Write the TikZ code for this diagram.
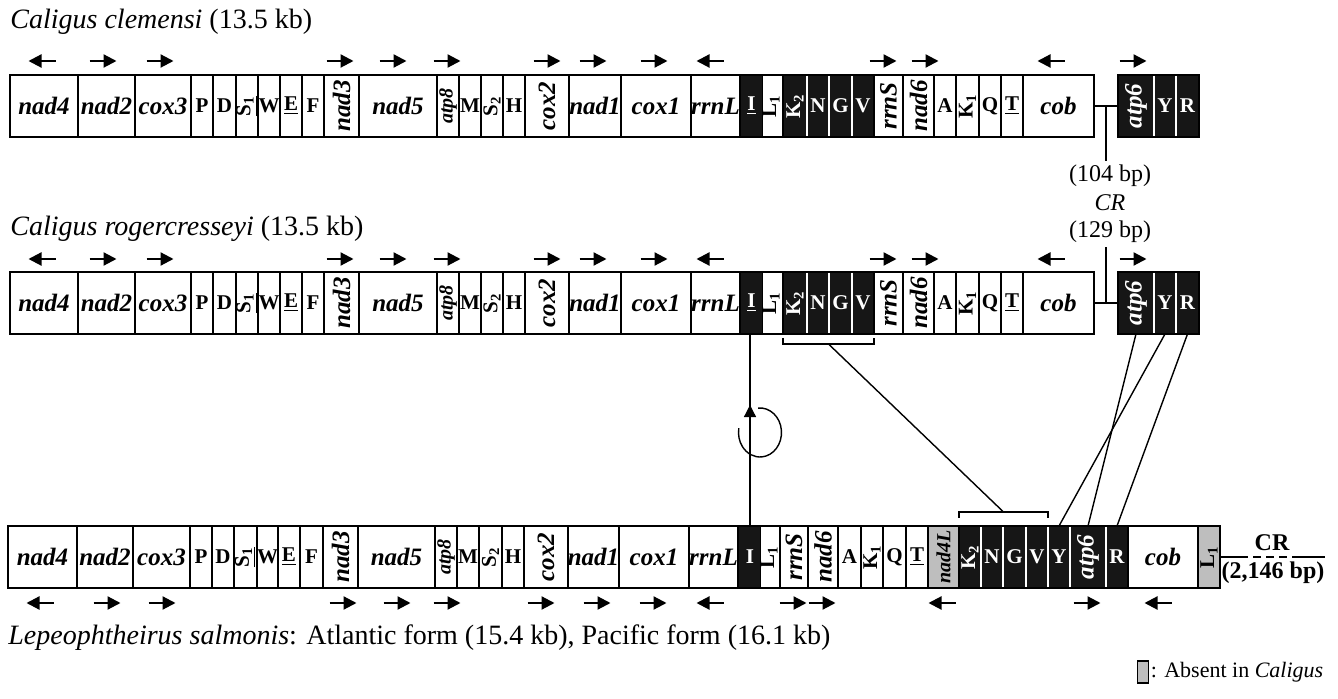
\documentclass[tikz,border=0pt]{standalone}
\usepackage{fontspec}
\setmainfont{Liberation Serif}
\usepackage{graphicx}
\usetikzlibrary{positioning, arrows.meta, calc, decorations.markings}
\definecolor{cellblack}{HTML}{161616}
\definecolor{cellgray}{HTML}{BEBEBE}
\newcommand{\rotlab}[1]{\rotatebox{90}{#1}}
\newcommand{\rotsmall}[1]{\rotatebox{90}{\fontsize{10}{10}\selectfont #1}}

\tikzset{
  cell/.style={draw, line width=0.9pt, inner sep=0pt, outer sep=0pt, minimum height=31pt},
  wg/.style={cell, fill=white, font=\fontsize{12.5}{12.5}\selectfont\bfseries\itshape},
  wt/.style={cell, fill=white, font=\fontsize{10.5}{10.5}\selectfont\bfseries},
  bg/.style={cell, fill=cellblack, text=white, font=\fontsize{12.5}{12.5}\selectfont\bfseries\itshape},
  bt/.style={cell, fill=cellblack, text=white, font=\fontsize{10.5}{10.5}\selectfont\bfseries},
  gg/.style={cell, fill=cellgray, font=\fontsize{12.5}{12.5}\selectfont\bfseries\itshape},
  gt/.style={cell, fill=cellgray, font=\fontsize{10.5}{10.5}\selectfont\bfseries},
  dir/.style={-{Triangle[length=6.5pt, width=6.5pt]}, line width=1.1pt},
  sep/.style={white, line width=0.6pt, shorten <=0.5pt, shorten >=0.5pt},
  title/.style={inner sep=0pt, anchor=west, font=\fontsize{14}{16}\selectfont},
  crlab/.style={inner sep=2pt, font=\fontsize{12}{14}\selectfont},
  crbold/.style={inner sep=1pt, font=\fontsize{12}{14}\selectfont\bfseries},
  link/.style={line width=0.7pt},
  joint/.style={line width=0.9pt}
}

\begin{document}
\begin{tikzpicture}[x=0.5pt, y=-0.5pt]
  \useasboundingbox (0,0) rectangle (1338,699);

  % titles
  \node[title] (t1) at (10,22) {\textit{Caligus clemensi} (13.5 kb)};
  \node[title] (t2) at (10,229) {\textit{Caligus rogercresseyi} (13.5 kb)};
  \node[title] (t3) at (8,638) {\textit{Lepeophtheirus salmonis}: Atlantic form (15.4 kb), Pacific form (16.1 kb)};

  % the two Caligus genomes
  \foreach \r/\yc in {c1/106, c2/303} {
    \foreach \a/\b/\n/\s/\l in {
      10/78/nad4/wg/nad4, 78/135/nad2/wg/nad2, 135/191/cox3/wg/cox3,
      191/213/P/wt/P, 213/236/D/wt/D, 236/258/S1/wt/{\rotlab{\underline{S\textsubscript{1}}}},
      258/280/W/wt/W, 280/302/E/wt/{\underline{E}}, 302/324/F/wt/F,
      324/359/nad3/wg/{\rotlab{nad3}}, 359/437/nad5/wg/nad5, 437/459/atp8/wg/{\rotsmall{atp8}},
      459/481/M/wt/M, 481/503/S2/wt/{\rotlab{S\textsubscript{2}}}, 503/525/H/wt/H,
      525/569/cox2/wg/{\rotlab{cox2}}, 569/621/nad1/wg/nad1, 621/691/cox1/wg/cox1,
      691/740/rrnL/wg/rrnL, 740/763/I/bt/{\underline{I}}, 763/783/L1/wt/{\rotlab{\underline{L\textsubscript{1}}}},
      783/807/K2/bt/{\rotlab{K\textsubscript{2}}}, 807/829/N/bt/N, 829/852/G/bt/G, 852/874/V/bt/V,
      874/903/rrnS/wg/{\rotlab{rrnS}}, 903/934/nad6/wg/{\rotlab{nad6}}, 934/956/A/wt/A,
      956/979/K1/wt/{\rotlab{K\textsubscript{1}}}, 979/1001/Q/wt/Q, 1001/1023/T/wt/{\underline{T}},
      1023/1094/cob/wg/cob, 1118/1154/atp6/bg/{\rotlab{atp6}}, 1154/1176/Y/bt/Y, 1176/1199/R/bt/R}
      \node[\s, minimum width={(\b-\a)*0.5pt}] (\r\n) at ({(\a+\b)/2}, \yc) {\l};
    \foreach \n in {N, G, V, Y, R}
      \draw[sep] (\r\n.north west) -- (\r\n.south west);
    \draw[joint] (\r cob.east) -- (\r atp6.west);
  }

  % Lepeophtheirus genome
  \foreach \a/\b/\n/\s/\l in {
    8/77/nad4/wg/nad4, 77/133/nad2/wg/nad2, 133/190/cox3/wg/cox3,
    190/212/P/wt/P, 212/234/D/wt/D, 234/257/S1/wt/{\rotlab{\underline{S\textsubscript{1}}}},
    257/278/W/wt/W, 278/300/E/wt/{\underline{E}}, 300/323/F/wt/F,
    323/358/nad3/wg/{\rotlab{nad3}}, 358/435/nad5/wg/nad5, 435/457/atp8/wg/{\rotsmall{atp8}},
    457/479/M/wt/M, 479/502/S2/wt/{\rotlab{S\textsubscript{2}}}, 502/524/H/wt/H,
    524/568/cox2/wg/{\rotlab{cox2}}, 568/619/nad1/wg/nad1, 619/689/cox1/wg/cox1,
    689/738/rrnL/wg/rrnL, 738/762/I/bt/I, 762/780/L1/wt/{\rotlab{\underline{L\textsubscript{1}}}},
    780/808/rrnS/wg/{\rotlab{rrnS}}, 808/838/nad6/wg/{\rotlab{nad6}}, 838/861/A/wt/A,
    861/883/K1/wt/{\rotlab{K\textsubscript{1}}}, 883/906/Q/wt/Q, 906/928/T/wt/{\underline{T}},
    928/959/nad4L/gg/{\rotsmall{nad4L}}, 959/981/K2/bt/{\rotlab{K\textsubscript{2}}},
    981/1003/N/bt/N, 1003/1026/G/bt/G, 1026/1048/V/bt/V, 1048/1070/Y/bt/Y,
    1070/1106/atp6/bg/{\rotlab{atp6}}, 1106/1128/R/bt/R, 1128/1198/cob/wg/cob,
    1198/1220/L1g/gt/{\rotlab{L\textsubscript{1}}}}
    \node[\s, minimum width={(\b-\a)*0.5pt}] (c3\n) at ({(\a+\b)/2}, 557) {\l};
  \foreach \n in {N, G, V, Y, atp6, R}
    \draw[sep] (c3\n.north west) -- (c3\n.south west);

  % transcription direction
  \foreach \y in {61, 259}
    \foreach \x/\d in {42/-1, 103/1, 160/1, 340/1, 393/1, 447/1, 547/1, 593/1,
                       654/1, 710/-1, 883/1, 925/1, 1051/-1, 1133/1}
      \draw[dir] (\x-13.5*\d, \y) -- (\x+13.5*\d, \y);
  \foreach \x/\d in {40/-1, 107/1, 162/1, 343/1, 397/1, 447/1, 541/1, 597/1, 653/1,
                     710/-1, 793/1, 822/1, 942/-1, 1087/1, 1158/-1}
    \draw[dir] (\x-13.5*\d, 603) -- (\x+13.5*\d, 603);

  % control regions of Caligus
  \coordinate (cr1) at ($(c1cob.east)!0.5!(c1atp6.west)$);
  \coordinate (cr2) at ($(c2cob.east)!0.5!(c2atp6.west)$);
  \node[crlab] (bp104) at (1110,176) {(104 bp)};
  \node[crlab] (crname) at (1110,203) {\textit{CR}};
  \node[crlab] (bp129) at (1110,232) {(129 bp)};
  \draw[link] (cr1) -- (cr1 |- bp104.north);
  \draw[link] (cr2 |- bp129.south) -- (cr2);

  % control region of Lepeophtheirus
  \coordinate (crA) at (1240,557);
  \coordinate (crB) at (1292,557);
  \coordinate (crE) at (1325,557);
  \draw[joint] (c3L1g.east) -- (crA);
  \draw[joint, dash pattern=on 4pt off 2.5pt] (crA) -- (crB);
  \draw[joint] (crB) -- (crE);
  \node[crbold] (cr3) at (1272,543) {CR};
  \node[crbold] (bp2146) at (1273,573) {(2,146 bp)};

  % rearrangements
  \draw[link, postaction={decorate}, decoration={markings,
        mark=at position 0.63 with {\arrow{Triangle[length=6pt, width=6pt]}}}]
    (c3I.north) -- (c3I.north |- c2I.south);
  \draw[link] ($(760,432.5)+({21.5*cos(-95)},{24.5*sin(-95)})$)
    arc[start angle=-95, end angle=190, x radius=21.5, y radius=24.5];

  \coordinate (b2) at ($(c2K2.south west)!0.5!(c2V.south east)+(0,10)$);
  \coordinate (b3) at ($(c3K2.north west)!0.5!(c3V.north east)+(0,-14)$);
  \draw[link] ([yshift=-2pt]c2K2.south west) |- (b2) -| ([yshift=-2pt]c2V.south east);
  \draw[link] ([yshift=4pt]c3K2.north west) |- (b3) -| ([yshift=4pt]c3V.north east);
  \draw[link] (b2) -- (b3);

  \draw[link] (c2atp6.south) -- (c3atp6.north);
  \draw[link] (c2Y.south) -- (c3Y.north);
  \draw[link] (c2R.south) -- (c3R.north);

  % legend
  \node[cell, fill=cellgray, minimum width=5.5pt, minimum height=11pt] (leg) at (1143,672) {};
  \node[inner sep=1pt, anchor=west, font=\fontsize{11}{13}\selectfont] (legtext) at (leg.east) {: Absent in \textit{Caligus}};
\end{tikzpicture}
\end{document}
